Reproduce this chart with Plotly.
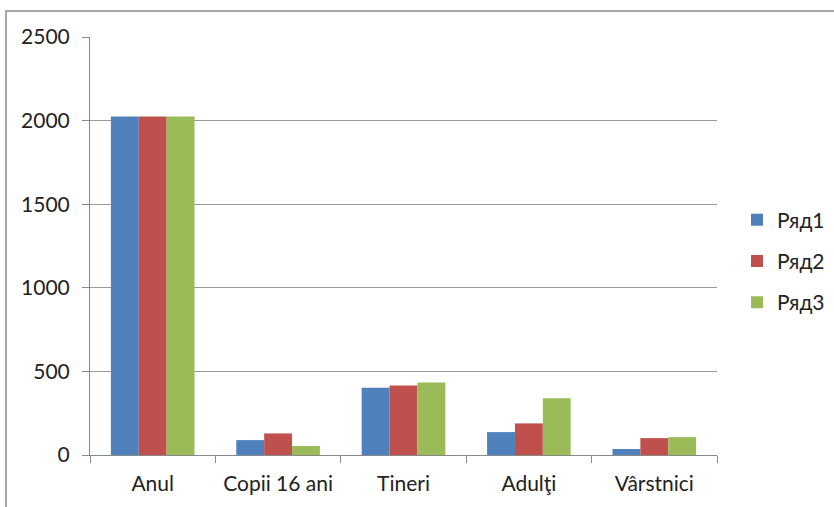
import plotly.graph_objects as go

categories = ["Anul", "Copii 16 ani", "Tineri", "Adulţi", "Vârstnici"]
series_names = ["Ряд1", "Ряд2", "Ряд3"]
ryad1 = [2025, 89, 402, 137, 36]
ryad2 = [2025, 129, 416, 189, 101]
ryad3 = [2025, 54, 434, 340, 107]
colors = ["#4F81BD", "#C0504D", "#9BBB59"]
y_ticks = [0, 500, 1000, 1500, 2000, 2500]

fig = go.Figure()
for i, (name, vals) in enumerate(zip(series_names, [ryad1, ryad2, ryad3])):
    fig.add_trace(go.Bar(x=categories, y=vals, name=name, marker_color=colors[i],
                         marker_line_width=0, legendgroup=name))

L, R, T, B = 90, 117, 37, 52
W, H = 834, 507
pw, ph = W - L - R, H - T - B

fig.update_layout(
    width=W, height=H,
    margin=dict(l=L, r=R, t=T, b=B, autoexpand=False),
    paper_bgcolor="white", plot_bgcolor="white",
    barmode="group", bargap=0.333, bargroupgap=0,
    font=dict(family="Lato, Open Sans, sans-serif", size=21, color="#222222"),
    legend=dict(x=(737 - L) / pw, y=(H - B - 261) / ph, xanchor="left", yanchor="middle",
                font=dict(size=21), tracegroupgap=11, itemwidth=30),
    xaxis=dict(showline=True, linecolor="#888888", linewidth=1,
               ticks="outside", tickson="boundaries", ticklen=7, tickcolor="#888888",
               showgrid=False, tickfont=dict(size=21), ticklabelstandoff=10),
    yaxis=dict(range=[0, 2500], tickvals=y_ticks, showline=True, linecolor="#888888",
               linewidth=1, ticks="outside", ticklen=7, tickcolor="#888888",
               showgrid=True, gridcolor="#9a9a9a", gridwidth=1, zeroline=False,
               tickfont=dict(size=21), ticklabelstandoff=8),
    shapes=[dict(type="rect", xref="paper", yref="paper",
                 x0=(6 - L) / pw, x1=(W + 20 - L) / pw,
                 y0=-(B + 20) / ph, y1=(H - B - 11) / ph,
                 line=dict(color="#8a8a8a", width=1.5), layer="below")],
)

fig.write_html("out.html", config={"displayModeBar": False},
               post_script="document.body.style.margin='0';document.body.style.padding='0';")
